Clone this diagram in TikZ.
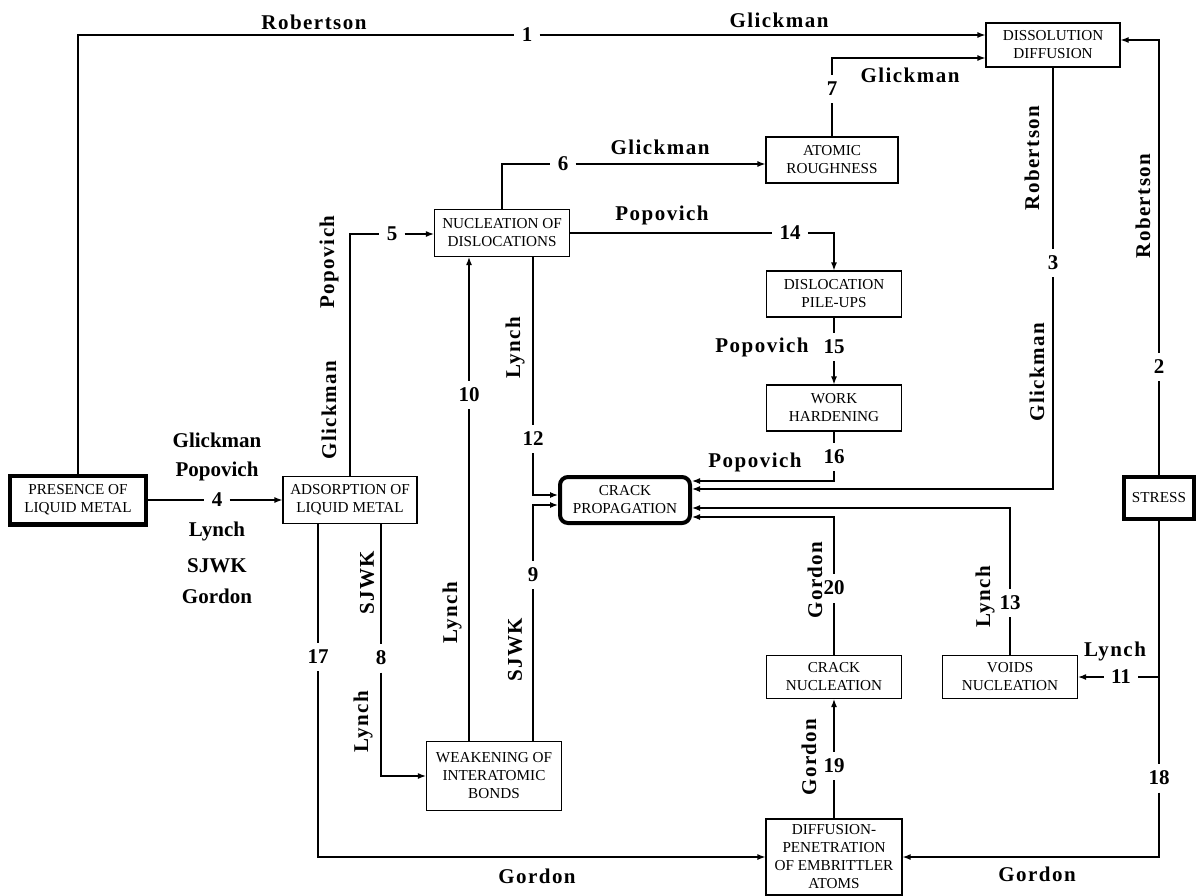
\documentclass[tikz,border=0pt]{standalone}
\usepackage{fontspec}
\setmainfont{Liberation Serif}
\newfontfamily\spacedserif[LetterSpace=7]{Liberation Serif}
\usetikzlibrary{arrows.meta}
\tikzset{
	box/.style={draw, line width=0.6pt, align=center, inner sep=0.5pt, font=\fontsize{7.6}{9}\selectfont},
	heavybox/.style={box, line width=2.2pt},
	num/.style={inner sep=3.5pt, font=\fontsize{10.5}{12}\selectfont\bfseries},
	who/.style={inner sep=0pt, font=\spacedserif\fontsize{10.5}{12}\selectfont\bfseries},
	whoplain/.style={inner sep=0pt, font=\fontsize{10.5}{12}\selectfont\bfseries},
	link/.style={line width=0.6pt},
	arr/.style={link, -{Latex[length=4pt,width=3pt]}}
}

\begin{document}
\begin{tikzpicture}[x=0.5pt, y=-0.5pt]
			%%%%% START %%%%%
			\useasboundingbox (0,0) rectangle (1197,895);
			
			\node[heavybox, minimum width=67.8pt, minimum height=24.3pt] (presence) at (78,500) {PRESENCE OF\\LIQUID METAL};
			\node[box, minimum width=67pt, minimum height=23.5pt] (adsorp) at (350,500) {ADSORPTION OF\\LIQUID METAL};
			\node[box, minimum width=67.5pt, minimum height=23.5pt] (nucl) at (502,233) {NUCLEATION OF\\DISLOCATIONS};
			\node[box, minimum width=66pt, minimum height=23pt] (atomic) at (832,160) {ATOMIC\\ROUGHNESS};
			\node[box, minimum width=67pt, minimum height=22pt] (diss) at (1053,45) {DISSOLUTION\\DIFFUSION};
			\node[box, minimum width=67.5pt, minimum height=23pt] (pile) at (834,294) {DISLOCATION\\PILE-UPS};
			\node[box, minimum width=67.5pt, minimum height=23pt] (work) at (834,408) {WORK\\HARDENING};
			\node[heavybox, line width=2pt, rounded corners=4pt, minimum width=65pt, minimum height=23pt] (crack) at (625,500) {CRACK\\PROPAGATION};
			\node[heavybox, minimum width=35pt, minimum height=20.8pt] (stress) at (1159,498) {STRESS};
			\node[box, minimum width=67.5pt, minimum height=21.5pt] (cnuc) at (834,677) {CRACK\\NUCLEATION};
			\node[box, minimum width=67.5pt, minimum height=21.5pt] (voids) at (1010,677) {VOIDS\\NUCLEATION};
			\node[box, minimum width=67.5pt, minimum height=34.5pt] (weak) at (494,776) {WEAKENING OF\\INTERATOMIC\\BONDS};
			\node[box, minimum width=68pt, minimum height=38pt] (diff) at (834,857) {DIFFUSION-\\PENETRATION\\OF EMBRITTLER\\ATOMS};
			
			\node[num] (n1) at (527,35) {1};
			\node[num] (n2) at (1159,367) {2};
			\node[num] (n3) at (1053,263) {3};
			\node[num] (n4) at (217,500) {4};
			\node[num] (n5) at (392,234) {5};
			\node[num] (n6) at (563,164) {6};
			\node[num] (n7) at (832,89) {7};
			\node[num] (n8) at (381,658) {8};
			\node[num] (n9) at (533,575) {9};
			\node[num] (n10) at (469,395) {10};
			\node[num] (n11) at (1121,677) {11};
			\node[num] (n12) at (533,439) {12};
			\node[num] (n13) at (1010,603) {13};
			\node[num] (n14) at (790,233) {14};
			\node[num] (n15) at (834,347) {15};
			\node[num] (n16) at (834,457) {16};
			\node[num] (n17) at (318,657) {17};
			\node[num] (n18) at (1159,778) {18};
			\node[num] (n19) at (834,766) {19};
			\node[num] (n20) at (834,588) {20};
			
			\draw[link] (presence.north) |- (n1);
			\draw[arr] (n1) -- ([yshift=5pt]diss.west);
			\draw[link] (stress.north) -- (n2);
			\draw[arr] (n2) |- ([yshift=2.5pt]diss.east);
			\draw[link] (diss.south) -- (n3);
			\draw[arr] (n3) |- ([yshift=5.5pt]crack.east);
			\draw[link] (presence) -- (n4);
			\draw[arr] (n4) -- (adsorp);
			\draw[link] (adsorp.north) |- (n5);
			\draw[arr] (n5) -- (nucl.west |- n5);
			\draw[link] (nucl.north) |- (n6);
			\draw[arr] (n6) -- (atomic.west |- n6);
			\draw[link] (atomic.north) -- (n7);
			\draw[arr] (n7) |- ([yshift=-6.5pt]diss.west);
			\draw[link] (adsorp.south -| n8) -- (n8);
			\draw[arr] (n8) |- (weak.west);
			\draw[link] (weak.north -| n9) -- (n9);
			\draw[arr] (n9) |- ([yshift=-2.5pt]crack.west);
			\draw[link] (weak.north -| n10) -- (n10);
			\draw[arr] (n10) -- (nucl.south -| n10);
			\draw[link] (n18 |- n11) -- (n11);
			\draw[arr] (n11) -- (voids.east |- n11);
			\draw[link] (nucl.south -| n12) -- (n12);
			\draw[arr] (n12) |- ([yshift=2.5pt]crack.west);
			\draw[link] (voids.north) -- (n13);
			\draw[arr] (n13) |- ([yshift=-4pt]crack.east);
			\draw[link] (nucl.east) -- (n14);
			\draw[arr] (n14) -| (pile.north);
			\draw[link] (pile.south) -- (n15);
			\draw[arr] (n15) -- (work.north);
			\draw[link] (work.south) -- (n16);
			\draw[arr] (n16) |- ([yshift=9.5pt]crack.east);
			\draw[link] (adsorp.south -| n17) -- (n17);
			\draw[arr] (n17) |- (diff.west);
			\draw[link] (stress.south) -- (n18);
			\draw[arr] (n18) |- (diff.east);
			\draw[link] (diff.north) -- (n19);
			\draw[arr] (n19) -- (cnuc.south);
			\draw[link] (cnuc.north) -- (n20);
			\draw[arr] (n20) |- ([yshift=-8.5pt]crack.east);
			
			\node[who] (rob1) at (314,22) {Robertson};
			\node[who] (gli1) at (779,20) {Glickman};
			\node[who] (gli7) at (910,75) {Glickman};
			\node[who] (gli6) at (660,147) {Glickman};
			\node[who] (pop14) at (662,215) {Popovich};
			\node[who] (pop15) at (762,347) {Popovich};
			\node[who] (pop16) at (755,462) {Popovich};
			\node[who, rotate=90] (rob3) at (1032,158) {Robertson};
			\node[who, rotate=90] (gli3) at (1037,372) {Glickman};
			\node[who, rotate=90] (rob2) at (1143,206) {Robertson};
			\node[who, rotate=90] (pop5) at (329,262) {Popovich};
			\node[who, rotate=90] (gli5) at (329,410) {Glickman};
			\node[who, rotate=90] (lyn12) at (515,348) {Lynch};
			\node[who, rotate=90] (lyn10) at (452,613) {Lynch};
			\node[who, rotate=90] (sjwk9) at (515,650) {SJWK};
			\node[who, rotate=90] (sjwk8) at (367,583) {SJWK};
			\node[who, rotate=90] (lyn8) at (363,722) {Lynch};
			\node[who, rotate=90] (lyn13) at (985,597) {Lynch};
			\node[who] (lyn11) at (1115,651) {Lynch};
			\node[who, rotate=90] (gor20) at (815,580) {Gordon};
			\node[who, rotate=90] (gor19) at (809,757) {Gordon};
			\node[who] (gor17) at (537,876) {Gordon};
			\node[who] (gor18) at (1037,874) {Gordon};
			
			\node[whoplain] (gli4) at (217,440) {Glickman};
			\node[whoplain] (pop4) at (217,471) {Popovich};
			\node[whoplain] (lyn4) at (217,531) {Lynch};
			\node[whoplain] (sjwk4) at (217,566) {SJWK};
			\node[whoplain] (gor4) at (217,596) {Gordon};
			
			%%%%% END %%%%%
\end{tikzpicture}
\end{document}
